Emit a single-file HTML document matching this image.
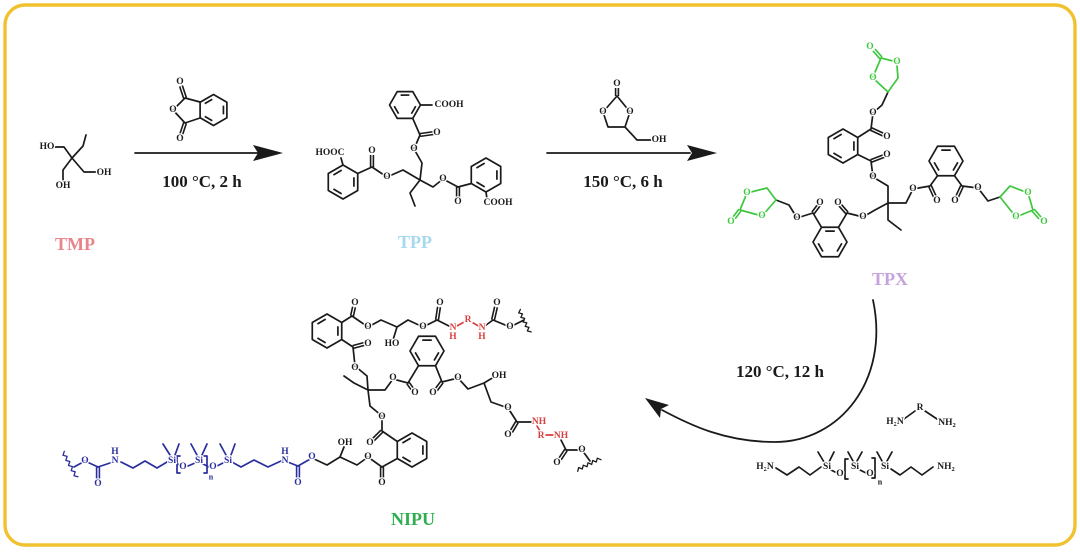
<!DOCTYPE html>
<html>
<head>
<meta charset="utf-8">
<style>
html,body{margin:0;padding:0;background:#fff;}
body{width:1080px;height:553px;overflow:hidden;}
svg{display:block;}
.t{font-family:"Liberation Serif",serif;font-size:9.5px;font-weight:bold;text-anchor:middle;dominant-baseline:central;stroke:#fff;stroke-width:2.6px;paint-order:stroke;stroke-linejoin:round;}
.k{fill:#1a1a1a;}
.g{fill:#3ec73e;}
.r{fill:#d8403f;}
.b{fill:#2a2e9e;}
.lab{font-family:"Liberation Serif",serif;font-weight:bold;font-size:18px;text-anchor:middle;}
.cond{font-family:"Liberation Serif",serif;font-weight:bold;font-size:17px;text-anchor:middle;fill:#1a1a1a;}
</style>
</head>
<body>
<svg width="1080" height="553" viewBox="0 0 1080 553" xmlns="http://www.w3.org/2000/svg">
<defs>
  <g id="bz" fill="none" stroke="#1a1a1a" stroke-width="1.7" stroke-linejoin="round">
    <path vector-effect="non-scaling-stroke" d="M0,-17 L14.72,-8.5 L14.72,8.5 L0,17 L-14.72,8.5 L-14.72,-8.5 Z"/>
    <path vector-effect="non-scaling-stroke" d="M10.9,-4.8 V4.8 M-1.31,11.83 L-9.59,7.04 M-9.59,-7.04 L-1.31,-11.83"/>
  </g>
  <path id="dk" d="M185,98 L181,86 M185,123 L181,135 M420,135 L434,133 M372,167 L372,155 M458,187 L458,199 M617,96 L617,88 M871,129 L884,135 M871,161 L884,156 M930,186 L935,197 M962,186 L957,197 M847,213 L840,205 M813,213 L819,205 M352,316 L354,307 M353,347 L364,344 M437,320 L439,307 M493,320 L496,307 M408,383 L413,390 M442,382 L436,390 M517,422 L511,432 M566,450 L560,459 M382,431 L373,440 M382,467 L382,479"/>
  <path id="dg" d="M881,58 L874,50 M1033,210 L1040,218 M740,210 L734,218"/>
  <path id="db" d="M298,466 L298,479 M98,467 L98,480"/>
</defs>

<!-- border -->
<rect x="5" y="5" width="1070" height="540" rx="20" ry="20" fill="none" stroke="#f1c22f" stroke-width="3.4"/>

<!-- double bonds -->
<g fill="none" stroke-linecap="butt">
  <use href="#dk" stroke="#1a1a1a" stroke-width="4.4"/>
  <use href="#dk" stroke="#fff" stroke-width="1.2"/>
  <use href="#dg" stroke="#3ec73e" stroke-width="4.4"/>
  <use href="#dg" stroke="#fff" stroke-width="1.2"/>
  <use href="#db" stroke="#2a2e9e" stroke-width="4.4"/>
  <use href="#db" stroke="#fff" stroke-width="1.2"/>
</g>

<!-- rings -->
<use href="#bz" transform="translate(213.5,110) scale(0.91)"/>
<use href="#bz" transform="translate(405,105) rotate(30) scale(0.91)"/>
<use href="#bz" transform="translate(343,182)"/>
<use href="#bz" transform="translate(486,175)"/>
<use href="#bz" transform="translate(843,146)"/>
<use href="#bz" transform="translate(946,161) rotate(30)"/>
<use href="#bz" transform="translate(830,242) rotate(30)"/>
<use href="#bz" transform="translate(327,331)"/>
<use href="#bz" transform="translate(427,351) rotate(30)"/>
<use href="#bz" transform="translate(412,450)"/>

<!-- black single bonds -->
<g fill="none" stroke="#1a1a1a" stroke-width="1.7" stroke-linecap="round" stroke-linejoin="round">
  <!-- TMP -->
  <path d="M54,147 H64 L72,158 M72,158 L83,146 L86,135 M72,158 L63,170 L63,180 M72,158 L84,172 H97"/>
  <!-- anhydride -->
  <path d="M200,102 L185,98 L173,110 L185,123 L200,118"/>
  <!-- arrow 1 -->
  <path d="M135,153 H258"/>
  <!-- TPP -->
  <path d="M420.5,105 H432 M412.75,118.4 L420,135 L414,149 L422,163 L420,180 M420,180 L403,170 L387,177 L372,167 L357.7,173.5 M343,165 L341,158 M420,180 L433,187 L443,179 L458,187 L471.3,183.5 M486,192 L487,199 M420,180 L410,193 L415,206"/>
  <!-- arrow 2 -->
  <path d="M547,153 H690"/>
  <!-- glycerol carbonate -->
  <path d="M603,112 L617,96 L630,112 M630,112 L625,127 L608,127 L603,112 M625,127 L637,140 H651"/>
  <!-- TPX -->
  <path d="M857.7,137.5 L871,129 L873,113 L882,105 L888,92 M857.7,154.5 L871,161 L873,177 L888,186 L888,203 M888,203 H906 L913,189 L930,186 L937.5,175.7 M954.5,175.7 L962,186 L978,188 L988,201 L1000,197 M888,203 L875,210 L863,217 L847,213 L838.5,227.3 M821.5,227.3 L813,213 L797,218 L789,205 L776,200 M888,203 V220 L901,230"/>
  <!-- curved arrow -->
  <path d="M873,300 C890,380 840,442 775,442 C725,442 690,425 662,410" stroke-width="1.8"/>
  <!-- diamine -->
  <path d="M904,419 L915,411 M925,411 L937,419"/>
  <!-- siloxane reagent -->
  <path d="M776,468 L787,475 L799,467 L810,475 L821,467 M818,452 L824,462 M834,452 L829,462 M848,452 L853,461 M862,452 L857,461 M877,452 L882,461 M892,452 L887,461 M848,459 H845 V479 H848 M872,458 H875 V478 H872 M891,469 L900,475 L911,467 L922,475 L933,467 M831,470 L837,473 M860,470 L866,473"/>
  <!-- NIPU black -->
  <path d="M341.7,322.5 L352,316 L368,327 L381,320 L397,327 L408,320 L423,327 L437,320 L453,328 M397,327 L393,340 M482,328 L493,320 L510,327 L524,320"/>
  <path d="M520.4,309.4 L518.7,312.9 L522.5,313.9 L520.9,317.4 L524.7,318.4 L523,321.9 L526.8,322.9 L525.2,326.4 L529,327.4 L527.3,330.9 L531.1,331.9" stroke-width="1.3"/>
  <path d="M341.7,339.5 L353,347 L355,366 L367,376 L368,390 M368,390 L354,383 L344,376 M368,390 H385 L393,379 L408,383 L418.5,365.7 M435.5,365.7 L442,382 L458,378 L468,389 L484,383 L494,377 M484,383 L491,402 L508,408 L517,422 L532,422 M561,440 L566,450 L582,450 L590,461"/>
  <path d="M577.7,471.3 L578.7,467.5 L582.3,469 L583.3,465.2 L587,466.7 L588,462.8 L591.7,464.4 L592.7,460.5 L596.3,462 L597.3,458.2 L601,459.7" stroke-width="1.3"/>
  <path d="M368,390 L370,406 L382,416 L382,431 L397.3,441.5 M397.3,458.5 L382,467 L368,457 L357,465 L340,457 L327,465 L312,458 M340,457 L344,447"/>
</g>
<polygon points="283,153 253,145 258,153 253,161" fill="#1a1a1a"/>
<polygon points="717,153 687,145 692,153 687,161" fill="#1a1a1a"/>
<polygon points="645,398 669,405 661,409 660,418" fill="#1a1a1a"/>

<!-- green bonds -->
<g fill="none" stroke="#3ec73e" stroke-width="1.7" stroke-linecap="round" stroke-linejoin="round">
  <path d="M888,92 L898,78 L897,66 M897,62 L881,58 L873,77 M873,78 L888,92"/>
  <path d="M1000,197 L1010,186 L1028,193 L1033,210 L1016,217 L1000,197"/>
  <path d="M776,200 L767,188 L747,193 L740,210 L762,216 L776,200"/>
</g>

<!-- red bonds -->
<g fill="none" stroke="#d8403f" stroke-width="1.7" stroke-linecap="round">
  <path d="M453,328 L468,320 L482,328 M537,426 L540,431 M546,435 H553"/>
</g>

<!-- blue bonds -->
<g fill="none" stroke="#2a2e9e" stroke-width="1.7" stroke-linecap="round" stroke-linejoin="round">
  <path d="M312,458 L298,466 L285,461 M281,461 L268,467 L254,460 L241,467 L230,461 M226,455 L220,444 M231,455 L235,444 M204,456 H207 V473 H204 M197,455 L191,444 M202,455 L207,444 M180,456 H177 V473 H180 M170,455 L163,444 M175,455 L179,444 M167,462 L157,468 L145,461 L133,468 L121,462 M113,462 L98,467 L85,461 L74,467 M176,463 L181,466 M188,466 L195,463 M203,464 L209,467 M217,466 L223,463"/>
  <path d="M64.3,451.3 L63,455.3 L67.1,456.4 L65.8,460.4 L69.8,461.5 L68.5,465.5 L72.5,466.6 L71.2,470.6 L75.2,471.7 L74,475.7 L77.9,476.8" stroke-width="1.3"/>
</g>

<!-- atom labels: TMP -->
<text class="t k" x="47" y="147">HO</text>
<text class="t k" x="63" y="186">OH</text>
<text class="t k" x="104" y="173">OH</text>
<!-- anhydride -->
<text class="t k" x="180" y="82">O</text>
<text class="t k" x="173" y="110">O</text>
<text class="t k" x="180" y="139">O</text>
<!-- TPP -->
<text class="t k" x="449" y="105">COOH</text>
<text class="t k" x="414" y="149">O</text>
<text class="t k" x="437" y="133">O</text>
<text class="t k" x="387" y="177">O</text>
<text class="t k" x="372" y="151">O</text>
<text class="t k" x="330" y="153">HOOC</text>
<text class="t k" x="443" y="179">O</text>
<text class="t k" x="458" y="202">O</text>
<text class="t k" x="498" y="203">COOH</text>
<!-- glycerol carbonate -->
<text class="t k" x="617" y="84">O</text>
<text class="t k" x="603" y="112">O</text>
<text class="t k" x="630" y="112">O</text>
<text class="t k" x="659" y="140">OH</text>
<!-- TPX black -->
<text class="t k" x="873" y="113">O</text>
<text class="t k" x="887" y="137">O</text>
<text class="t k" x="887" y="155">O</text>
<text class="t k" x="873" y="177">O</text>
<text class="t k" x="913" y="189">O</text>
<text class="t k" x="937" y="201">O</text>
<text class="t k" x="955" y="201">O</text>
<text class="t k" x="978" y="188">O</text>
<text class="t k" x="863" y="217">O</text>
<text class="t k" x="838" y="203">O</text>
<text class="t k" x="820" y="203">O</text>
<text class="t k" x="797" y="218">O</text>
<!-- TPX green -->
<text class="t g" x="870" y="47">O</text>
<text class="t g" x="897" y="62">O</text>
<text class="t g" x="873" y="78">O</text>
<text class="t g" x="1028" y="193">O</text>
<text class="t g" x="1016" y="217">O</text>
<text class="t g" x="1044" y="222">O</text>
<text class="t g" x="747" y="193">O</text>
<text class="t g" x="762" y="216">O</text>
<text class="t g" x="731" y="222">O</text>
<!-- diamine -->
<text class="t k" x="895" y="422">H<tspan font-size="6.5" dy="2">2</tspan><tspan dy="-2">N</tspan></text>
<text class="t k" x="920" y="408">R</text>
<text class="t k" x="947" y="423">NH<tspan font-size="6.5" dy="2">2</tspan></text>
<!-- siloxane reagent -->
<text class="t k" x="765" y="467">H<tspan font-size="6.5" dy="2">2</tspan><tspan dy="-2">N</tspan></text>
<text class="t k" x="827" y="467">Si</text>
<text class="t k" x="840" y="474">O</text>
<text class="t k" x="855" y="467">Si</text>
<text class="t k" x="870" y="474">O</text>
<text class="t k" x="885" y="467">Si</text>
<text class="t k" x="880" y="482" style="font-size:8px">n</text>
<text class="t k" x="946" y="467">NH<tspan font-size="6.5" dy="2">2</tspan></text>
<!-- NIPU black -->
<text class="t k" x="355" y="303">O</text>
<text class="t k" x="368" y="327">O</text>
<text class="t k" x="392" y="344">HO</text>
<text class="t k" x="423" y="327">O</text>
<text class="t k" x="440" y="303">O</text>
<text class="t k" x="497" y="303">O</text>
<text class="t k" x="510" y="327">O</text>
<text class="t k" x="368" y="344">O</text>
<text class="t k" x="355" y="368">O</text>
<text class="t k" x="393" y="378">O</text>
<text class="t k" x="415" y="393">O</text>
<text class="t k" x="433" y="393">O</text>
<text class="t k" x="458" y="378">O</text>
<text class="t k" x="499" y="376">OH</text>
<text class="t k" x="508" y="408">O</text>
<text class="t k" x="508" y="435">O</text>
<text class="t k" x="557" y="463">O</text>
<text class="t k" x="582" y="450">O</text>
<text class="t k" x="382" y="417">O</text>
<text class="t k" x="370" y="443">O</text>
<text class="t k" x="382" y="483">O</text>
<text class="t k" x="368" y="457">O</text>
<text class="t k" x="345" y="443">OH</text>
<!-- NIPU red -->
<text class="t r" x="453" y="328">N</text>
<text class="t r" x="453" y="337">H</text>
<text class="t r" x="468" y="320">R</text>
<text class="t r" x="482" y="328">N</text>
<text class="t r" x="482" y="337">H</text>
<text class="t r" x="539" y="422">NH</text>
<text class="t r" x="541" y="436">R</text>
<text class="t r" x="561" y="436">NH</text>
<!-- NIPU blue -->
<text class="t b" x="312" y="457">O</text>
<text class="t b" x="298" y="483">O</text>
<text class="t b" x="285" y="461">N</text>
<text class="t b" x="285" y="452">H</text>
<text class="t b" x="228" y="461">Si</text>
<text class="t b" x="213" y="467">O</text>
<text class="t b" x="199" y="461">Si</text>
<text class="t b" x="183" y="467">O</text>
<text class="t b" x="172" y="461">Si</text>
<text class="t b" x="211" y="477" style="font-size:8px">n</text>
<text class="t b" x="115" y="461">N</text>
<text class="t b" x="115" y="452">H</text>
<text class="t b" x="98" y="484">O</text>
<text class="t b" x="85" y="461">O</text>

<!-- reaction conditions -->
<text class="cond" x="202" y="187">100 °C, 2 h</text>
<text class="cond" x="623" y="187">150 °C, 6 h</text>
<text class="cond" x="780" y="377">120 °C, 12 h</text>

<!-- compound labels -->
<text class="lab" x="75" y="250" fill="#e8848a">TMP</text>
<text class="lab" x="415" y="248" fill="#a6d8ee">TPP</text>
<text class="lab" x="890" y="285" fill="#c5a3dc">TPX</text>
<text class="lab" x="413" y="525" fill="#2fae50">NIPU</text>
</svg>
</body>
</html>
